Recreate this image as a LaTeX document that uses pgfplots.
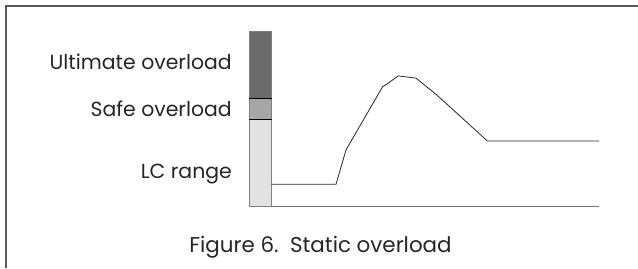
\documentclass[border=0pt]{standalone}
\usepackage{pgfplots}
\pgfplotsset{compat=1.18}
\usepackage{fontspec}
\setmainfont{Poppins}
\definecolor{ult}{HTML}{6B6B6B}
\definecolor{safe}{HTML}{A6A6A6}
\definecolor{lc}{HTML}{E2E2E2}
\begin{document}
\begin{tikzpicture}[x=1bp,y=1bp]
\useasboundingbox (0,0) rectangle (638,268);
\draw[line width=2bp, color=black!65] (5.5,0) -- (5.5,261.5) -- (638,261.5);
\begin{axis}[
  at={(249bp,61.3bp)}, anchor=south west,
  scale only axis, width=350bp, height=175bp,
  xmin=0, xmax=350, ymin=0, ymax=200,
  axis x line=bottom, axis y line=none,
  x axis line style={-, draw=black!55, line width=1.5bp},
  xtick=\empty, ytick=\empty, clip=false]
% capacity bar (percent of rated capacity)
\addplot[fill=lc, draw=black!50, line width=0.8bp] coordinates {(0,0) (22.7,0) (22.7,100) (0,100)} --cycle;
\addplot[fill=safe, draw=black!50, line width=0.8bp] coordinates {(0,100) (22.7,100) (22.7,124) (0,124)} --cycle;
\addplot[fill=ult, draw=black!50, line width=0.8bp] coordinates {(0,124) (22.7,124) (22.7,200) (0,200)} --cycle;
\addplot[black, line width=0.9bp] coordinates {(0,100) (22.7,100)};
\addplot[black, line width=0.9bp] coordinates {(0,124) (22.7,124)};
% load curve
\addplot[black!85, line width=0.8bp] coordinates {
(22.7,25.6) (87,25.6) (97,64.9) (133.7,137.3) (137.7,140.0) (149.3,149.5)
(167,146.9) (187.7,127.8) (238.3,75.2) (350,75.2)};
\end{axis}
\node[anchor=base east, font=\fontsize{20.5}{24}\selectfont, text=black!85, inner sep=0] at (232,199) {Ultimate overload};
\node[anchor=base east, font=\fontsize{20.5}{24}\selectfont, text=black!85, inner sep=0] at (232,151.3) {Safe overload};
\node[anchor=base east, font=\fontsize{20.5}{24}\selectfont, text=black!85, inner sep=0] at (232,89.7) {LC range};
\node[anchor=base, font=\fontsize{21.5}{25}\selectfont, text=black!85, inner sep=0] at (320.5,16) {Figure 6.\ \ Static overload};
\end{tikzpicture}
\end{document}
